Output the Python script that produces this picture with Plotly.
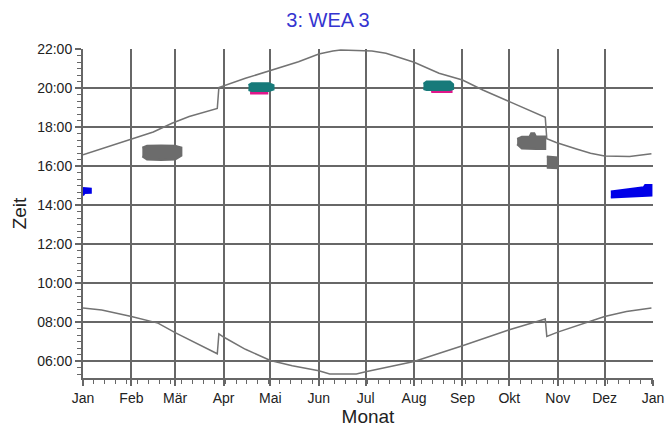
import plotly.graph_objects as go

# Calendar year shown on the x axis (non-leap year, DST on 29 Mar / 25 Oct)
YEAR = 2015

MONTH_STARTS = [f"{YEAR}-{m:02d}-01" for m in range(1, 13)] + [f"{YEAR + 1}-01-01"]
MONTH_LABELS = ["Jan", "Feb", "Mär", "Apr", "Mai", "Jun", "Jul",
                "Aug", "Sep", "Okt", "Nov", "Dez", "Jan"]

TIME_TICKS = [6, 8, 10, 12, 14, 16, 18, 20, 22]
TIME_LABELS = ["06:00", "08:00", "10:00", "12:00", "14:00",
               "16:00", "18:00", "20:00", "22:00"]

# Sunset (hours, local time)
sunset_dates = ["01-01", "01-17", "01-31", "02-15", "02-27", "03-10", "03-28",
                "03-29", "04-15", "05-01", "05-19", "06-01", "06-10", "06-15",
                "07-05", "07-14", "08-01", "08-17", "09-01", "09-14", "10-01",
                "10-14", "10-24", "10-25", "10-31", "11-13", "11-22", "12-01",
                "12-17", "12-31"]
sunset_hours = [16.58, 17.00, 17.34, 17.75, 18.20, 18.54, 18.96,
                20.02, 20.50, 20.89, 21.35, 21.74, 21.90, 21.95,
                21.90, 21.78, 21.32, 20.76, 20.41, 19.90, 19.30,
                18.88, 18.50, 17.40, 17.21, 16.88, 16.66, 16.52,
                16.49, 16.64]

# Sunrise (hours, local time)
sunrise_dates = ["01-01", "01-13", "02-01", "02-18", "03-01", "03-28", "03-29",
                 "04-01", "04-15", "05-01", "05-15", "06-01", "06-08", "06-25",
                 "07-01", "07-16", "08-01", "09-01", "10-01", "10-24", "10-25",
                 "11-01", "12-01", "12-15", "12-31"]
sunrise_hours = [8.73, 8.63, 8.30, 7.96, 7.47, 6.39, 7.41,
                 7.25, 6.62, 6.05, 5.78, 5.52, 5.36, 5.36,
                 5.47, 5.74, 6.00, 6.80, 7.62, 8.17, 7.28,
                 7.50, 8.30, 8.55, 8.73]

# Shadow periods: (dates, latest time, earliest time)
blue_jan_dates = ["01-01", "01-02", "01-04", "01-06"]
blue_jan_end = [14.88, 14.88, 14.86, 14.85]
blue_jan_start = [14.50, 14.62, 14.62, 14.63]

gray_feb_dates = ["02-08", "02-11", "02-20", "03-01", "03-03", "03-05"]
gray_feb_end = [16.95, 17.05, 17.06, 17.05, 17.00, 16.95]
gray_feb_start = [16.50, 16.34, 16.32, 16.34, 16.45, 16.53]

teal_apr_dates = ["04-17", "04-19", "04-30", "05-03"]
teal_apr_end = [20.15, 20.25, 20.25, 20.15]
teal_apr_start = [19.90, 19.85, 19.85, 19.92]

pink_apr_dates = ["04-18", "04-29"]
pink_apr_end = [19.90, 19.90]
pink_apr_start = [19.72, 19.72]

teal_aug_dates = ["08-07", "08-09", "08-24", "08-26"]
teal_aug_end = [20.22, 20.33, 20.33, 20.20]
teal_aug_start = [19.95, 19.90, 19.90, 19.95]

pink_aug_dates = ["08-12", "08-25"]
pink_aug_end = [19.93, 19.93]
pink_aug_start = [19.80, 19.80]

gray_oct_dates = ["10-06", "10-09", "10-14", "10-15", "10-17", "10-18", "10-24"]
gray_oct_end = [17.40, 17.50, 17.52, 17.68, 17.68, 17.52, 17.52]
gray_oct_start = [17.12, 16.90, 16.88, 16.88, 16.88, 16.88, 16.88]

gray_nov_dates = ["10-25", "11-01"]
gray_nov_end = [16.49, 16.45]
gray_nov_start = [15.92, 15.90]

blue_dec_dates = ["12-05", "12-26", "12-27", "12-31"]
blue_dec_end = [14.70, 14.92, 15.03, 15.03]
blue_dec_start = [14.39, 14.47, 14.48, 14.50]

GRID = "#676767"
CURVE = "#737373"
GRAY = "#6c6c6c"
BLUE = "#0000e8"
TEAL = "#177a7a"
PINK = "#e0168a"

FIG_W, FIG_H = 666, 430


def d(md):
    return f"{YEAR}-{md}"


fig = go.Figure()

for dates, hours in [(sunset_dates, sunset_hours), (sunrise_dates, sunrise_hours)]:
    fig.add_trace(go.Scatter(
        x=[d(v) for v in dates], y=hours, mode="lines",
        line=dict(color=CURVE, width=1.5), hoverinfo="skip",
    ))

blobs = [
    (blue_jan_dates, blue_jan_end, blue_jan_start, BLUE),
    (gray_feb_dates, gray_feb_end, gray_feb_start, GRAY),
    (pink_apr_dates, pink_apr_end, pink_apr_start, PINK),
    (teal_apr_dates, teal_apr_end, teal_apr_start, TEAL),
    (pink_aug_dates, pink_aug_end, pink_aug_start, PINK),
    (teal_aug_dates, teal_aug_end, teal_aug_start, TEAL),
    (gray_oct_dates, gray_oct_end, gray_oct_start, GRAY),
    (gray_nov_dates, gray_nov_end, gray_nov_start, GRAY),
    (blue_dec_dates, blue_dec_end, blue_dec_start, BLUE),
]
for dates, end, start, color in blobs:
    xs = [d(v) for v in dates]
    fig.add_trace(go.Scatter(
        x=xs + xs[::-1], y=end + start[::-1],
        mode="lines", fill="toself", fillcolor=color,
        line=dict(color=color, width=2), hoverinfo="skip",
    ))

fig.update_layout(
    width=FIG_W, height=FIG_H,
    paper_bgcolor="white", plot_bgcolor="white",
    showlegend=False,
    margin=dict(l=83, r=12.5, t=49, b=52),
    font=dict(family="Liberation Sans, Arial, sans-serif", size=14, color="#222"),
    title=dict(text="3: WEA 3", font=dict(size=20, color="#3434d0"),
               x=328 / FIG_W, xref="container", xanchor="center",
               y=1 - 20 / FIG_H, yref="container", yanchor="middle"),
)

fig.update_xaxes(
    type="date", range=[d("01-01"), f"{YEAR + 1}-01-01"],
    tickmode="array", tickvals=MONTH_STARTS, ticktext=MONTH_LABELS,
    ticklabeloverflow="allow",
    showgrid=True, gridcolor=GRID, gridwidth=2,
    showline=True, linecolor=GRID, linewidth=2,
    ticks="outside", ticklen=6, tickwidth=1.5, tickcolor=GRID,
    minor=dict(dtick=7 * 86400000, tick0=d("01-01"), ticks="outside",
               ticklen=4, tickwidth=1, tickcolor=GRID, showgrid=False),
    title=dict(text="Monat", font=dict(size=19), standoff=5),
    zeroline=False, automargin=False,
)
fig.update_yaxes(
    range=[5.15, 22],
    tickmode="array", tickvals=TIME_TICKS, ticktext=TIME_LABELS,
    showgrid=True, gridcolor=GRID, gridwidth=2,
    showline=True, linecolor=GRID, linewidth=2,
    ticks="outside", ticklen=6, tickwidth=1.5, tickcolor=GRID,
    minor=dict(dtick=1 / 3, tick0=0, ticks="outside",
               ticklen=4, tickwidth=1, tickcolor=GRID, showgrid=False),
    title=dict(text="Zeit", font=dict(size=19), standoff=6),
    zeroline=False, automargin=False,
)

# drop the default page margin so the 666x430 figure fills the window exactly
fig.write_html("out.html", config={"displayModeBar": False},
               post_script="document.body.style.margin = '0';")
